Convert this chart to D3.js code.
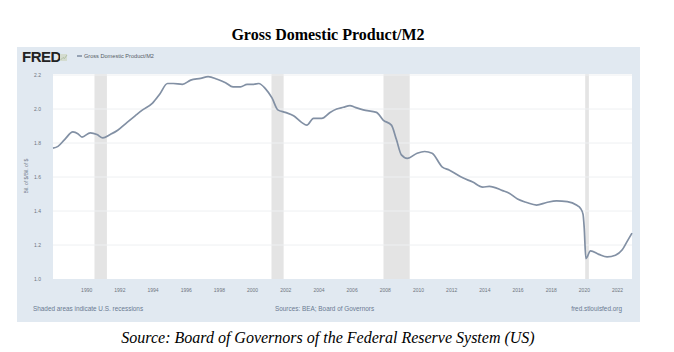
<!DOCTYPE html>
<html>
<head>
<meta charset="utf-8">
<script src="https://cdn.jsdelivr.net/npm/d3@7"></script>
<style>
  body { margin: 0; background: #fff; }
  svg { display: block; }
</style>
</head>
<body>
<div id="chart"></div>
<script>
// GDP/M2 readings (decimal year, ratio)
const dates = [
  1988.0, 1988.3, 1988.7, 1989.2, 1989.5, 1989.75, 1990.25, 1990.65, 1991.0, 1991.45,
  1991.9, 1992.45, 1992.95, 1993.4, 1994.0, 1994.45, 1994.9, 1995.25, 1995.8, 1996.3,
  1996.9, 1997.35, 1997.9, 1998.4, 1998.85, 1999.3, 1999.7, 2000.1, 2000.4, 2000.8,
  2001.2, 2001.55, 2002.0, 2002.5, 2003.0, 2003.3, 2003.7, 2004.2, 2004.7, 2005.1,
  2005.5, 2005.9, 2006.2, 2006.7, 2007.5, 2007.9, 2008.4, 2008.7, 2009.0, 2009.35,
  2009.95, 2010.4, 2010.85, 2011.45, 2011.9, 2012.7, 2013.3, 2013.9, 2014.3, 2015.1,
  2015.5, 2016.0, 2016.55, 2017.15, 2017.75, 2018.35, 2019.0, 2019.55, 2019.8, 2019.95,
  2020.02, 2020.12, 2020.4, 2020.9, 2021.4, 2021.9, 2022.3, 2022.6, 2022.9
];
const values = [
  1.77, 1.78, 1.82, 1.865, 1.855, 1.835, 1.86, 1.85, 1.83, 1.85,
  1.875, 1.92, 1.96, 1.995, 2.035, 2.09, 2.15, 2.15, 2.145, 2.17,
  2.18, 2.19, 2.175, 2.155, 2.13, 2.13, 2.145, 2.145, 2.15, 2.12,
  2.065, 1.995, 1.98, 1.96, 1.92, 1.905, 1.945, 1.945, 1.98, 2.0,
  2.01, 2.02, 2.01, 1.995, 1.98, 1.935, 1.905, 1.82, 1.73, 1.71,
  1.74, 1.75, 1.74, 1.66, 1.64, 1.595, 1.57, 1.54, 1.545, 1.52,
  1.505, 1.47, 1.45, 1.435, 1.45, 1.46, 1.455, 1.435, 1.415, 1.38,
  1.3, 1.12, 1.165, 1.145, 1.13, 1.14, 1.17, 1.22, 1.27
];

// US recessions (start, end)
const recessionStarts = [1990.5, 2001.17, 2007.92, 2020.08];
const recessionEnds   = [1991.25, 2001.9, 2009.5, 2020.3];

const xTicks = [1990, 1992, 1994, 1996, 1998, 2000, 2002, 2004, 2006, 2008, 2010, 2012, 2014, 2016, 2018, 2020, 2022];
const yTicks = [1.0, 1.2, 1.4, 1.6, 1.8, 2.0, 2.2];

const width = 674, height = 352;
const panel = { x: 17, y: 47, w: 623, h: 275 };
const plot = { left: 53, right: 632, top: 74, bottom: 279 };

const svg = d3.select("#chart").append("svg")
  .attr("width", width)
  .attr("height", height);

svg.append("rect").attr("width", width).attr("height", height).attr("fill", "#fff");

// Title
svg.append("text")
  .attr("x", 328).attr("y", 40)
  .attr("text-anchor", "middle")
  .style("font-family", "'Liberation Serif', 'Times New Roman', serif")
  .style("font-weight", "bold")
  .style("font-size", "16px")
  .attr("fill", "#000")
  .text("Gross Domestic Product/M2");

// FRED panel background
svg.append("rect")
  .attr("x", panel.x).attr("y", panel.y)
  .attr("width", panel.w).attr("height", panel.h)
  .attr("fill", "#e1e9f1");

// Plot area
svg.append("rect")
  .attr("x", plot.left).attr("y", plot.top)
  .attr("width", plot.right - plot.left).attr("height", plot.bottom - plot.top)
  .attr("fill", "#ffffff");

const x = d3.scaleLinear().domain([1988.0, 2022.9]).range([plot.left, plot.right]);
const y = d3.scaleLinear().domain([1.0, 2.2]).range([plot.bottom, plot.top + 1]);

// Recession bars
svg.append("g").selectAll("rect")
  .data(recessionStarts.map((s, i) => [s, recessionEnds[i]]))
  .join("rect")
  .attr("x", d => x(d[0]))
  .attr("y", plot.top)
  .attr("width", d => Math.max(1, x(d[1]) - x(d[0])))
  .attr("height", plot.bottom - plot.top)
  .attr("fill", "#e4e4e4");

// Gridlines
svg.append("g").selectAll("line")
  .data(yTicks.slice(1))
  .join("line")
  .attr("x1", plot.left).attr("x2", plot.right)
  .attr("y1", d => y(d)).attr("y2", d => y(d))
  .attr("stroke", "#eef0f2")
  .attr("stroke-width", 1);

// Axes (labels only, FRED style)
const tickFont = "'Liberation Sans', Arial, sans-serif";
const yAxis = svg.append("g")
  .attr("transform", `translate(${plot.left - 9},0)`)
  .call(d3.axisLeft(y).tickValues(yTicks).tickFormat(d3.format(".1f")).tickSize(0));
yAxis.select(".domain").remove();
yAxis.selectAll("text")
  .style("font-family", tickFont).style("font-size", "5px").attr("fill", "#6f7580");

const xAxis = svg.append("g")
  .attr("transform", `translate(0,${plot.bottom + 6})`)
  .call(d3.axisBottom(x).tickValues(xTicks).tickFormat(d3.format("d")).tickSize(0));
xAxis.select(".domain").remove();
xAxis.selectAll("text")
  .style("font-family", tickFont).style("font-size", "5px").attr("fill", "#6f7580");

// Y axis title
svg.append("text")
  .attr("transform", `translate(28,176) rotate(-90)`)
  .attr("text-anchor", "middle")
  .style("font-family", tickFont).style("font-size", "5px")
  .attr("fill", "#6d7686")
  .text("Bil. of $/Bil. of $");

// Series line
const line = d3.line()
  .x((d, i) => x(dates[i]))
  .y(d => y(d))
  .curve(d3.curveMonotoneX);

svg.append("path")
  .datum(values)
  .attr("d", line)
  .attr("fill", "none")
  .attr("stroke", "#8290a4")
  .attr("stroke-width", 1.7);

// FRED header
svg.append("text")
  .attr("x", 22).attr("y", 62)
  .style("font-family", "'Liberation Sans', Arial, sans-serif")
  .style("font-weight", "bold")
  .style("font-size", "15px")
  .style("letter-spacing", "-0.5px")
  .attr("fill", "#222")
  .text("FRED");

// small chart icon next to logo
const icon = svg.append("g").attr("transform", "translate(60,54)");
icon.append("rect").attr("x", 0).attr("y", 0).attr("width", 7).attr("height", 7).attr("fill", "#d4dcd0");
icon.append("path").attr("d", "M0.5,6 L3,3.5 L4.5,4.5 L7,1").attr("fill", "none").attr("stroke", "#a8b89a").attr("stroke-width", 0.8);

svg.append("line")
  .attr("x1", 77).attr("x2", 82).attr("y1", 56).attr("y2", 56)
  .attr("stroke", "#4b5d78").attr("stroke-width", 1);
svg.append("text")
  .attr("x", 84).attr("y", 58)
  .style("font-family", tickFont).style("font-size", "5.6px")
  .attr("fill", "#555c66")
  .text("Gross Domestic Product/M2");

// Footer texts
const footFont = { family: tickFont, size: "6.4px", color: "#6a7a92" };
[["Shaded areas indicate U.S. recessions", 33, "start"],
 ["Sources: BEA; Board of Governors", 275, "start"],
 ["fred.stlouisfed.org", 622, "end"]].forEach(([t, tx, anchor]) => {
  svg.append("text")
    .attr("x", tx).attr("y", 311)
    .attr("text-anchor", anchor)
    .style("font-family", footFont.family).style("font-size", footFont.size)
    .attr("fill", footFont.color)
    .text(t);
});

// Source caption
svg.append("text")
  .attr("x", 328).attr("y", 343)
  .attr("text-anchor", "middle")
  .style("font-family", "'Liberation Serif', 'Times New Roman', serif")
  .style("font-style", "italic")
  .style("font-size", "16px")
  .attr("fill", "#000")
  .text("Source: Board of Governors of the Federal Reserve System (US)");
</script>
</body>
</html>
